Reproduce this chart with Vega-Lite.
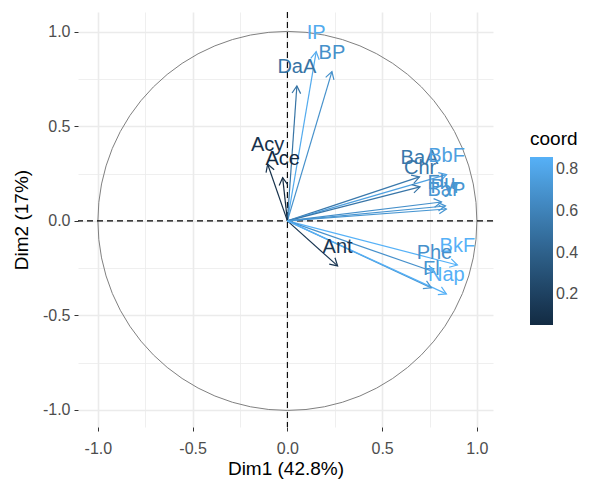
{
  "$schema": "https://vega.github.io/schema/vega-lite/v6.json",
  "width": 415,
  "height": 415,
  "autosize": {"type": "none"},
  "padding": {"left": 78, "top": 12, "right": 102, "bottom": 56},
  "background": "white",
  "view": {"stroke": null},
  "config": {
    "font": "Liberation Sans",
    "axis": {
      "domain": false,
      "labelFont": "Liberation Sans",
      "labelFontSize": 16,
      "labelColor": "#4D4D4D",
      "titleFont": "Liberation Sans",
      "titleFontSize": 19,
      "titleFontWeight": "normal",
      "titleColor": "#000000",
      "tickColor": "#333333",
      "tickSize": 4,
      "gridColor": "#EBEBEB"
    },
    "legend": {
      "titleFont": "Liberation Sans",
      "titleFontSize": 19,
      "titleFontWeight": "normal",
      "titleColor": "#000000",
      "labelFont": "Liberation Sans",
      "labelFontSize": 16,
      "labelColor": "#4D4D4D"
    }
  },
  "layer": [
    {
      "data": {"values": [{"cx": 0, "cy": 0}]},
      "mark": {"type": "point", "shape": "circle", "filled": false, "size": 143641, "stroke": "#808080", "strokeWidth": 1, "opacity": 1},
      "encoding": {
        "x": {"field": "cx", "type": "quantitative", "scale": {"domain": [-1.105, 1.085], "nice": false, "zero": false},
              "axis": {"values": [-1, -0.75, -0.5, -0.25, 0, 0.25, 0.5, 0.75, 1], "title": "Dim1 (42.8%)", "labelPadding": 9, "titlePadding": 3,
                       "gridWidth": {"condition": {"test": "datum.value*2 == round(datum.value*2)", "value": 1.6}, "value": 0.8},
                       "tickOpacity": {"condition": {"test": "datum.value*2 == round(datum.value*2)", "value": 1}, "value": 0},
                       "labelExpr": "datum.value*2 == round(datum.value*2) ? replace(format(datum.value, '.1f'), '\u2212', '-') : ''"}},
        "y": {"field": "cy", "type": "quantitative", "scale": {"domain": [-1.09, 1.105], "nice": false, "zero": false},
              "axis": {"values": [-1, -0.75, -0.5, -0.25, 0, 0.25, 0.5, 0.75, 1], "title": "Dim2 (17%)", "labelPadding": 4, "titlePadding": 11,
                       "gridWidth": {"condition": {"test": "datum.value*2 == round(datum.value*2)", "value": 1.6}, "value": 0.8},
                       "tickOpacity": {"condition": {"test": "datum.value*2 == round(datum.value*2)", "value": 1}, "value": 0},
                       "labelExpr": "datum.value*2 == round(datum.value*2) ? replace(format(datum.value, '.1f'), '\u2212', '-') : ''"}}
      }
    },
    {
      "data": {"values": [{"v": 0}]},
      "mark": {"type": "rule", "strokeDash": [6, 4], "color": "#000000", "strokeWidth": 1.1},
      "encoding": {"x": {"field": "v", "type": "quantitative"}}
    },
    {
      "data": {"values": [{"v": 0}]},
      "mark": {"type": "rule", "strokeDash": [6, 4], "color": "#000000", "strokeWidth": 1.1},
      "encoding": {"y": {"field": "v", "type": "quantitative"}}
    },
    {
      "data": {"name": "pca"},
      "mark": {"type": "rule", "strokeWidth": 1.2},
      "encoding": {
        "x": {"field": "x", "type": "quantitative"},
        "y": {"field": "y", "type": "quantitative"},
        "x2": {"datum": 0},
        "y2": {"datum": 0},
        "color": {"field": "coord", "type": "quantitative", "scale": {"range": ["#132B43", "#56B1F7"], "interpolate": "lab", "zero": false},
                  "legend": {"type": "gradient", "title": "coord", "orient": "none", "legendX": 452, "legendY": 118, "values": [0.2, 0.4, 0.6, 0.8], "format": ".1f",
                             "direction": "vertical", "gradientLength": 168, "gradientThickness": 23, "titlePadding": 8, "labelOffset": 3, "gradientStrokeWidth": 0}}
      }
    },
    {
      "data": {"name": "pca"},
      "transform": [{"calculate": "90 - atan2(datum.y, datum.x) * 180 / PI", "as": "ang"}],
      "mark": {"type": "point", "shape": "M -0.58 1 L 0 0 L 0.58 1", "filled": false, "strokeWidth": 1.2, "size": 220, "opacity": 1},
      "encoding": {
        "x": {"field": "x", "type": "quantitative"},
        "y": {"field": "y", "type": "quantitative"},
        "angle": {"field": "ang", "type": "quantitative", "scale": null},
        "stroke": {"field": "coord", "type": "quantitative", "scale": {"range": ["#132B43", "#56B1F7"], "interpolate": "lab", "zero": false}, "legend": null}
      }
    },
    {
      "data": {"name": "pca"},
      "mark": {"type": "text", "fontSize": 20, "font": "Liberation Sans", "baseline": "middle", "dy": -19},
      "encoding": {
        "x": {"field": "x", "type": "quantitative"},
        "y": {"field": "y", "type": "quantitative"},
        "text": {"field": "name", "type": "nominal"},
        "fill": {"field": "coord", "type": "quantitative", "scale": {"range": ["#132B43", "#56B1F7"], "interpolate": "lab", "zero": false}, "legend": null}
      }
    }
  ],
  "datasets": {
    "pca": [
      {"name": "IP", "x": 0.152, "y": 0.895, "coord": 0.824},
      {"name": "BP", "x": 0.235, "y": 0.79, "coord": 0.679},
      {"name": "DaA", "x": 0.05, "y": 0.714, "coord": 0.512},
      {"name": "Acy", "x": -0.104, "y": 0.30, "coord": 0.101},
      {"name": "Ace", "x": -0.025, "y": 0.229, "coord": 0.053},
      {"name": "Ant", "x": 0.265, "y": -0.238, "coord": 0.127},
      {"name": "BaA", "x": 0.697, "y": 0.233, "coord": 0.540},
      {"name": "BbF", "x": 0.84, "y": 0.245, "coord": 0.766},
      {"name": "Chr", "x": 0.70, "y": 0.18, "coord": 0.522},
      {"name": "Flu", "x": 0.813, "y": 0.10, "coord": 0.671},
      {"name": "Pyr", "x": 0.834, "y": 0.079, "coord": 0.702},
      {"name": "BaP", "x": 0.839, "y": 0.063, "coord": 0.708},
      {"name": "BkF", "x": 0.897, "y": -0.233, "coord": 0.859},
      {"name": "Phe", "x": 0.776, "y": -0.27, "coord": 0.675},
      {"name": "Fl", "x": 0.76, "y": -0.354, "coord": 0.703},
      {"name": "Nap", "x": 0.839, "y": -0.386, "coord": 0.853}
    ]
  }
}
